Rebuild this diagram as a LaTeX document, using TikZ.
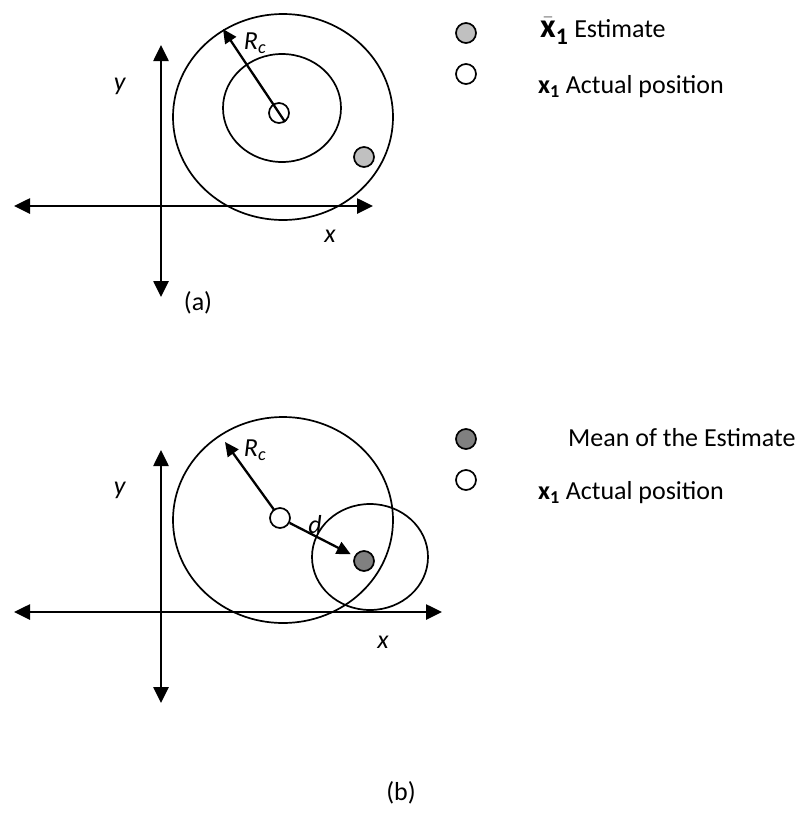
\documentclass[tikz,border=0pt]{standalone}
\usepackage{fontspec}
\setmainfont{Carlito}
\usepackage{tikz}
\usetikzlibrary{arrows.meta, positioning}
\definecolor{estgray}{HTML}{C0C0C0}
\definecolor{meangray}{HTML}{808080}

\tikzset{
  axis/.style={line width=2.6pt, {Triangle[length=16pt,width=15pt]}-{Triangle[length=16pt,width=15pt]}},
  ring/.style={line width=1.7pt},
  radarrow/.style={line width=2.3pt, -{Triangle[length=14pt,width=13pt]}},
  dot/.style={circle, draw, line width=1.7pt, minimum size=20pt, inner sep=0pt},
  lbl/.style={font=\fontsize{26}{31}\selectfont, inner sep=0pt},
}

\begin{document}
\begin{tikzpicture}[x=1pt, y=-1pt]
    \useasboundingbox (0,0) rectangle (802,833);

    % ── (a) Estimate inside the circle ────────────────────────────────
    \begin{scope}
        \coordinate (ax-l) at (14,206);
        \coordinate (ax-r) at (373,206);
        \coordinate (ay-t) at (161,45);
        \coordinate (ay-b) at (161,297);
        \draw[axis] (ax-l) -- (ax-r);
        \draw[axis] (ay-b) -- (ay-t);
        \draw[ring] (283,117) ellipse [x radius=110, y radius=103];
        \draw[ring] (282,108) ellipse [x radius=59, y radius=54];
        \node[dot] (aact) at (279,113) {};
        \node[dot, fill=estgray] (aest) at (364,157) {};
        \coordinate (arc) at (223,29);
        \draw[radarrow] (aact.-56) -- (arc);
        \node[lbl] (arclbl) at (255,43) {\textit{R}\textsubscript{\textit{c}}};
        \node[lbl] (aylbl) at (120,86) {\textit{y}};
        \node[lbl] (axlbl) at (330,236) {\textit{x}};
        \node[lbl] (acap) at (198,303) {(a)};
        % legend
        \node[dot, fill=estgray] (akeyest) at (466,33) {};
        \node[dot] (akeyact) at (466,74) {};
        \node[lbl, anchor=west] (atxtest) at (540,31)
            {{\fontsize{34}{38}\selectfont$\bar{\mathbf{x}}_{\mathbf{1}}$} Estimate};
        \node[lbl, anchor=west] (atxtact) at (538,87) {\textbf{x\textsubscript{1}} Actual position};
    \end{scope}

    % ── (b) Mean of the estimate off centre ───────────────────────────
    \begin{scope}[shift={(0,406)}]
        \coordinate (bx-l) at (14,206);
        \coordinate (bx-r) at (442,206);
        \coordinate (by-t) at (161,44);
        \coordinate (by-b) at (161,297);
        \draw[axis] (bx-l) -- (bx-r);
        \draw[axis] (by-b) -- (by-t);
        \draw[ring] (283,114) ellipse [x radius=110, y radius=103];
        \draw[ring] (370,151) ellipse [x radius=58, y radius=53];
        \node[dot, fill=meangray] (bmean) at (364,155) {};
        \coordinate (brc) at (225,36);
        \draw[radarrow] (280,112) -- (brc);
        \node[dot, fill=white] (bact) at (280,112) {};
        \draw[radarrow, shorten >=4pt] (bact) -- (bmean);
        \node[lbl] (brclbl) at (255,44) {\textit{R}\textsubscript{\textit{c}}};
        \node[lbl] (bdlbl) at (315,119) {\textit{d}};
        \node[lbl] (bylbl) at (120,84) {\textit{y}};
        \node[lbl] (bxlbl) at (383,236) {\textit{x}};
        \node[lbl] (bcap) at (401,387) {(b)};
        % legend
        \node[dot, fill=meangray] (bkeymean) at (466,33) {};
        \node[dot] (bkeyact) at (466,74) {};
        \node[lbl, anchor=west] (btxtmean) at (568,32) {Mean of the Estimate};
        \node[lbl, anchor=west] (btxtact) at (538,87) {\textbf{x\textsubscript{1}} Actual position};
    \end{scope}
\end{tikzpicture}
\end{document}
